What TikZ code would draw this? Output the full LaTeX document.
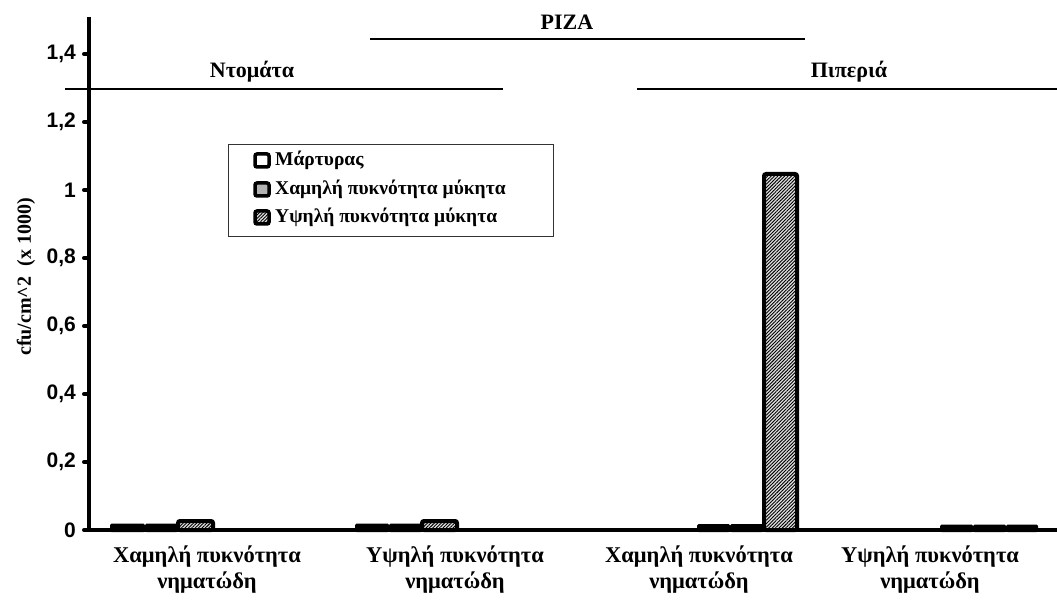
\documentclass[tikz,border=0pt]{standalone}
\usepackage{fontspec}
\setmainfont{Liberation Serif}
\newfontfamily\sansf{Liberation Sans}
\usetikzlibrary{patterns.meta}
\begin{document}
\begin{tikzpicture}[x=1pt,y=-1pt,
  grtext/.style={font=\fontsize{22}{22}\selectfont\bfseries, inner sep=0pt},
  cattext/.style={font=\fontsize{22.5}{26}\selectfont\bfseries, inner sep=0pt, align=center},
  legtext/.style={font=\fontsize{19.5}{19.5}\selectfont\bfseries, inner sep=0pt, anchor=west},
  ticktext/.style={font=\sansf\fontsize{21}{21}\selectfont\bfseries, inner sep=0pt, anchor=east},
  barbox/.style={draw=black, line width=4pt, rounded corners=2pt},
  zerobar/.style={fill=black, draw=none, rounded corners=1.5pt},
  hatchbar/.style={barbox, fill=gray!25, postaction={pattern={Lines[angle=45,distance=2.4pt,line width=0.9pt]}, pattern color=black}},
  axisline/.style={line width=4pt},
  tickmark/.style={line width=4pt, line cap=round},
  headline/.style={line width=1.6pt},
  legmark/.style={draw=black, line width=3.5pt, rounded corners=2pt},
]
\useasboundingbox (0,0) rectangle (1057,601);

% bars group 1
\draw[zerobar] (110,523.5) rectangle (145,532);
\draw[zerobar] (145,523.5) rectangle (178,532);
\draw[hatchbar] (178,521) rectangle (213,530);
% group 2
\draw[zerobar] (355,523.5) rectangle (389,532);
\draw[zerobar] (389,523.5) rectangle (422,532);
\draw[hatchbar] (422,521) rectangle (457,530);
% group 3
\draw[zerobar] (697,524) rectangle (730,532);
\draw[zerobar] (730,524) rectangle (763,532);
\draw[hatchbar] (764,174) rectangle (797,530);
% group 4
\draw[zerobar] (940,524.5) rectangle (973,532);
\draw[zerobar] (973,524.5) rectangle (1006,532);
\draw[zerobar] (1006,524.5) rectangle (1038,532);

% axes
\coordinate (ytop) at (89,17);
\coordinate (orig) at (89,530);
\coordinate (xleft) at (84,530);
\coordinate (xright) at (1057,530);
\draw[axisline] (ytop) -- (orig);
\draw[axisline] (xleft) -- (xright);

% ticks and labels
\foreach \v/\t [count=\i] in {0/0,0.2/{0,2},0.4/{0,4},0.6/{0,6},0.8/{0,8},1/1,1.2/{1,2},1.4/{1,4}}{
  \draw[tickmark] (84,530-340*\v) -- (89,530-340*\v);
  \node[ticktext] (tk\i) at (76,530-340*\v) {\t};
}

% y label
\node[font=\fontsize{20}{20}\selectfont\bfseries, rotate=90, inner sep=0pt] (ylab) at (26,277) {cfu/cm\textasciicircum 2\ \ (x 1000)};

% header lines and titles
\node[grtext] (piza) at (567,22) {PIZA};
\coordinate (pl) at (370,39);
\coordinate (pr) at (805,39);
\draw[headline] (pl) -- (pr);
\node[grtext] (ntom) at (252,72) {Ντομάτα};
\coordinate (nl) at (65,89);
\coordinate (nr) at (503,89);
\draw[headline] (nl) -- (nr);
\node[grtext] (piper) at (849,72) {Πιπεριά};
\coordinate (ql) at (637,89);
\coordinate (qr) at (1057,89);
\draw[headline] (ql) -- (qr);

% category labels
\node[cattext] (c1) at (207,570) {Χαμηλή πυκνότητα\\νηματώδη};
\node[cattext] (c2) at (455,570) {Υψηλή πυκνότητα\\νηματώδη};
\node[cattext] (c3) at (699,570) {Χαμηλή πυκνότητα\\νηματώδη};
\node[cattext] (c4) at (930,570) {Υψηλή πυκνότητα\\νηματώδη};

% legend
\draw[line width=1pt, draw=black!80] (228,145) rectangle (553,237);
\draw[legmark, fill=white] (255,154) rectangle (269,167);
\node[legtext] (l1) at (275,160) {Μάρτυρας};
\draw[legmark, fill=gray!60] (255,183) rectangle (269,196);
\node[legtext] (l2) at (275,189) {Χαμηλή πυκνότητα μύκητα};
\draw[legmark, fill=gray!25, postaction={pattern={Lines[angle=45,distance=2.4pt,line width=0.9pt]}, pattern color=black}] (255,211) rectangle (269,224);
\node[legtext] (l3) at (275,217) {Υψηλή πυκνότητα μύκητα};
\end{tikzpicture}
\end{document}
